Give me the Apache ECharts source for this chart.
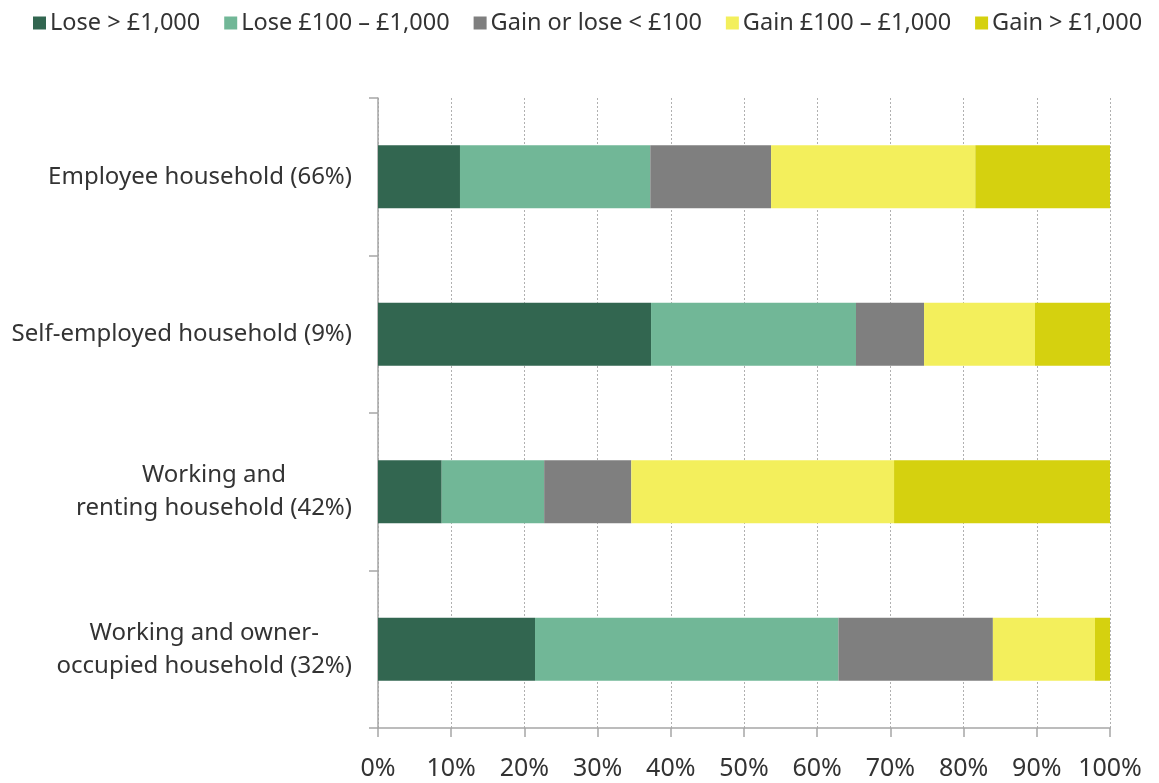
<!DOCTYPE html>
<html>
<head>
<meta charset="utf-8">
<script src="https://cdn.jsdelivr.net/npm/echarts@6/dist/echarts.min.js"></script>
<style>
  html, body { margin: 0; padding: 0; background: #fff; }
  #chart { width: 1159px; height: 783px; }
</style>
</head>
<body>
<div id="chart"></div>
<script>
const categories = [
  'Employee household (66%)',
  'Self-employed household (9%)',
  'Working and\nrenting household (42%)',
  'Working and owner-\noccupied household (32%)'
]
const seriesNames = ['Lose > £1,000', 'Lose £100 – £1,000', 'Gain or lose < £100', 'Gain £100 – £1,000', 'Gain > £1,000']
const loseBig = [11.2, 37.3, 8.7, 21.45]
const loseSmall = [26.0, 28.0, 14.0, 41.45]
const neutral = [16.5, 9.3, 11.9, 21.1]
const gainSmall = [27.9, 15.15, 35.9, 13.95]
const gainBig = [18.4, 10.25, 29.5, 2.05]
const xTicks = [0, 10, 20, 30, 40, 50, 60, 70, 80, 90, 100]

const colors = ['#326650', '#71b797', '#7f7f7f', '#f3ef5c', '#d5d10f']
const values = [loseBig, loseSmall, neutral, gainSmall, gainBig]
const font = '"Noto Sans", "Open Sans", sans-serif'

let chart = echarts.init(document.getElementById('chart'))
chart.setOption({
    animation: false,
    color: colors,
    textStyle: { fontFamily: font },
    legend: {
        top: 6,
        left: 28,
        itemWidth: 13,
        itemHeight: 13,
        itemGap: 24,
        icon: 'rect',
        textStyle: { fontSize: 23.5, color: '#333', padding: [0, 0, 0, -1] },
        data: seriesNames
    },
    grid: {
        left: 378,
        right: 49,
        top: 98,
        bottom: 55
    },
    xAxis: {
        type: 'value',
        min: 0,
        max: 100,
        interval: 10,
        axisLine: { show: true, lineStyle: { color: '#a6a6a6', width: 1.5 } },
        axisTick: { show: true, length: 9, lineStyle: { color: '#a6a6a6', width: 1.5 } },
        axisLabel: {
            margin: 28,
            fontSize: 25,
            color: '#333',
            formatter: (v) => xTicks.includes(v) ? v + '%' : ''
        },
        splitLine: { show: true, lineStyle: { color: '#b0b0b0', type: [2, 2], width: 1 } }
    },
    yAxis: {
        type: 'category',
        inverse: true,
        data: categories,
        axisLine: { show: true, lineStyle: { color: '#a6a6a6', width: 1.5 } },
        axisTick: { show: true, length: 9, lineStyle: { color: '#a6a6a6', width: 1.5 } },
        axisLabel: {
            margin: 26,
            fontSize: 24,
            color: '#333',
            lineHeight: 33,
            formatter: (v) => v.split('\n').map(s => '{c|' + s + '}').join('\n'),
            rich: {
                c: { align: 'center', fontSize: 24, lineHeight: 33, color: '#333', fontFamily: font }
            }
        }
    },
    series: seriesNames.map((name, i) => ({
        name: name,
        type: 'bar',
        stack: 'total',
        barCategoryGap: '60%',
        data: values[i],
        itemStyle: { color: colors[i] }
    }))
})
</script>
</body>
</html>
